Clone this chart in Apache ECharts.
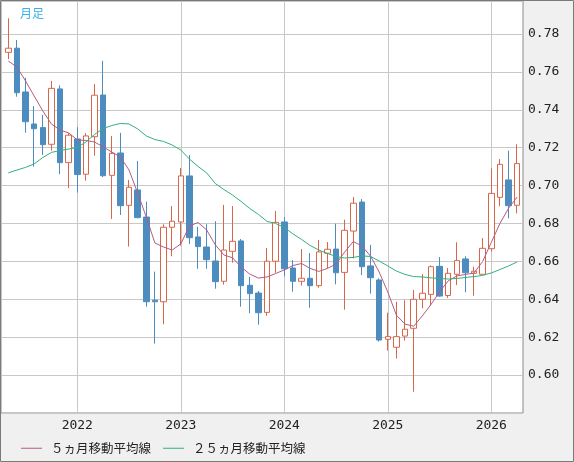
<!DOCTYPE html>
<html><head><meta charset="utf-8">
<script src="https://cdn.jsdelivr.net/npm/echarts@6/dist/echarts.min.js"></script>
<style>html,body{margin:0;padding:0;background:#f0f0f0}#c{width:574px;height:462px}</style>
</head><body><div id="c"></div>
<script>
const months = ['2021-05','2021-06','2021-07','2021-08','2021-09','2021-10','2021-11','2021-12',
 '2022-01','2022-02','2022-03','2022-04','2022-05','2022-06','2022-07','2022-08','2022-09','2022-10','2022-11','2022-12',
 '2023-01','2023-02','2023-03','2023-04','2023-05','2023-06','2023-07','2023-08','2023-09','2023-10','2023-11','2023-12',
 '2024-01','2024-02','2024-03','2024-04','2024-05','2024-06','2024-07','2024-08','2024-09','2024-10','2024-11','2024-12',
 '2025-01','2025-02','2025-03','2025-04','2025-05','2025-06','2025-07','2025-08','2025-09','2025-10','2025-11','2025-12',
 '2026-01','2026-02','2026-03','2026-04'];
const opens = [0.7703,0.7725,0.7494,0.7325,0.7306,0.7218,0.7510,0.7121,0.7246,0.7060,
 0.7258,0.7478,0.7054,0.7172,0.6896,0.6977,0.6834,0.6395,0.6387,0.6780,
 0.6808,0.7051,0.6729,0.6676,0.6602,0.6495,0.6653,0.6708,0.6474,0.6433,
 0.6331,0.6601,0.6808,0.6565,0.6495,0.6511,0.6472,0.6643,0.6665,0.6542,
 0.6760,0.6913,0.6576,0.6502,0.6189,0.6147,0.6206,0.6247,0.6400,0.6426,
 0.6574,0.6420,0.6532,0.6613,0.6537,0.6532,0.6667,0.6938,0.7030,0.6896];
const closes = [0.7725,0.7490,0.7337,0.7300,0.7216,0.7513,0.7121,0.7266,0.7058,0.7262,
 0.7477,0.7052,0.7170,0.6894,0.6991,0.6831,0.6387,0.6387,0.6780,0.6812,
 0.7051,0.6725,0.6678,0.6609,0.6493,0.6660,0.6706,0.6472,0.6430,0.6329,
 0.6601,0.6806,0.6561,0.6495,0.6511,0.6472,0.6650,0.6664,0.6540,0.6764,
 0.6907,0.6572,0.6514,0.6185,0.6203,0.6203,0.6242,0.6400,0.6432,0.6572,
 0.6417,0.6537,0.6604,0.6540,0.6548,0.6669,0.6959,0.7112,0.6894,0.7116];
const lows = [0.7667,0.7469,0.7279,0.7100,0.7161,0.7184,0.7060,0.6986,0.6963,0.7026,
 0.7158,0.7045,0.6824,0.6845,0.6678,0.6827,0.6361,0.6166,0.6268,0.6627,
 0.6683,0.6692,0.6561,0.6561,0.6456,0.6477,0.6593,0.6361,0.6326,0.6266,
 0.6313,0.6540,0.6521,0.6440,0.6472,0.6356,0.6461,0.6563,0.6479,0.6345,
 0.6616,0.6528,0.6430,0.6177,0.6129,0.6087,0.6182,0.5912,0.6352,0.6366,
 0.6414,0.6407,0.6475,0.6437,0.6419,0.6532,0.6651,0.6891,0.6827,0.6853];
const highs = [0.7883,0.7768,0.7569,0.7420,0.7373,0.7552,0.7529,0.7276,0.7308,0.7276,
 0.7535,0.7658,0.7262,0.7278,0.7030,0.7130,0.6915,0.6546,0.6796,0.6892,
 0.7093,0.7161,0.6782,0.6796,0.6812,0.6898,0.6892,0.6718,0.6519,0.6444,
 0.6671,0.6866,0.6834,0.6607,0.6665,0.6644,0.6713,0.6702,0.6799,0.6820,
 0.6940,0.6929,0.6687,0.6511,0.6329,0.6387,0.6395,0.6449,0.6533,0.6579,
 0.6623,0.6565,0.6701,0.6627,0.6572,0.6723,0.7091,0.7140,0.7184,0.7218];
const ma5 = [0.7657,0.7626,0.7552,0.7473,0.7394,0.7325,0.7293,0.7278,0.7241,0.7238,
 0.7230,0.7204,0.7177,0.7151,0.7082,0.6961,0.6834,0.6697,0.6676,0.6660,
 0.6692,0.6787,0.6805,0.6766,0.6687,0.6634,0.6619,0.6570,0.6533,0.6512,
 0.6518,0.6536,0.6555,0.6578,0.6589,0.6563,0.6547,0.6563,0.6586,0.6649,
 0.6705,0.6681,0.6628,0.6544,0.6438,0.6316,0.6269,0.6258,0.6312,0.6372,
 0.6439,0.6497,0.6523,0.6531,0.6539,0.6600,0.6700,0.6800,0.6880,0.6940];
const ma25 = [0.7067,0.7082,0.7096,0.7114,0.7148,0.7175,0.7185,0.7193,0.7201,0.7230,
 0.7270,0.7301,0.7317,0.7328,0.7325,0.7299,0.7262,0.7243,0.7233,0.7214,
 0.7188,0.7140,0.7101,0.7067,0.7011,0.6979,0.6950,0.6916,0.6879,0.6848,
 0.6811,0.6800,0.6779,0.6745,0.6716,0.6684,0.6660,0.6642,0.6626,0.6618,
 0.6621,0.6629,0.6626,0.6602,0.6576,0.6549,0.6531,0.6520,0.6518,0.6513,
 0.6510,0.6507,0.6510,0.6515,0.6520,0.6526,0.6539,0.6557,0.6576,0.6597];
const yearTicks = [8,20,32,44,56];
const yearLabels = ['2022','2023','2024','2025','2026'];
const legendNames = ['５ヵ月移動平均線','２５ヵ月移動平均線'];
const titleText = '月足';

const UP = '#d8674a', DOWN = '#4d8cbf', PINK = '#b45b85', GREEN = '#2fb37a';
const candleData = months.map((m,i)=>[i, opens[i], closes[i], lows[i], highs[i]]);
const chart = echarts.init(document.getElementById('c'), null, {renderer:'canvas'});
chart.setOption({
  animation:false,
  backgroundColor:'#f0f0f0',
  title:{text:titleText,left:15,top:2,textStyle:{color:'#38b2e8',fontSize:12,fontWeight:'normal',fontFamily:'Noto Sans CJK JP'}},
  legend:{data:legendNames,left:16,top:437,icon:'rect',itemWidth:21,itemHeight:1,itemGap:12,
    textStyle:{fontFamily:'Noto Sans CJK JP',fontSize:12.5,color:'#222',padding:[0,0,0,4]}},
  grid:{left:1,top:1,right:51,bottom:49,show:true,backgroundColor:'#fff',borderColor:'#8a8a8a',borderWidth:1,containLabel:false},
  xAxis:{type:'value',min:-0.846,max:59.676,
    axisLine:{show:false},
    axisTick:{show:false,customValues:yearTicks},
    axisLabel:{customValues:yearTicks,formatter:v=>yearLabels[yearTicks.indexOf(v)],color:'#222',fontFamily:'DejaVu Sans Mono',fontSize:13,margin:6},
    splitLine:{show:true,lineStyle:{color:'#c8c8c8',width:1}}},
  yAxis:{type:'value',position:'right',min:0.58,max:0.7974,interval:0.02,
    axisLine:{show:false},axisTick:{show:false},
    axisLabel:{showMinLabel:false,showMaxLabel:false,formatter:v=>v.toFixed(2),color:'#222',fontFamily:'DejaVu Sans Mono',fontSize:13,margin:5},
    splitLine:{lineStyle:{color:'#c8c8c8',width:1}}},
  graphic:[{type:'rect',shape:{x:0.5,y:0.5,width:573,height:461},style:{fill:'none',stroke:'#7a7a7a',lineWidth:1},z:100}],
  series:[
    {type:'candlestick',data:candleData,barWidth:6,
      itemStyle:{color:'#fff',color0:DOWN,borderColor:UP,borderColor0:DOWN,borderWidth:1}},
    {name:legendNames[0],type:'line',data:ma5.map((v,i)=>[i,v]),symbol:'none',lineStyle:{color:PINK,width:1},itemStyle:{color:PINK},z:3},
    {name:legendNames[1],type:'line',data:ma25.map((v,i)=>[i,v]),symbol:'none',lineStyle:{color:GREEN,width:1},itemStyle:{color:GREEN},z:3}
  ]
});
</script></body></html>
